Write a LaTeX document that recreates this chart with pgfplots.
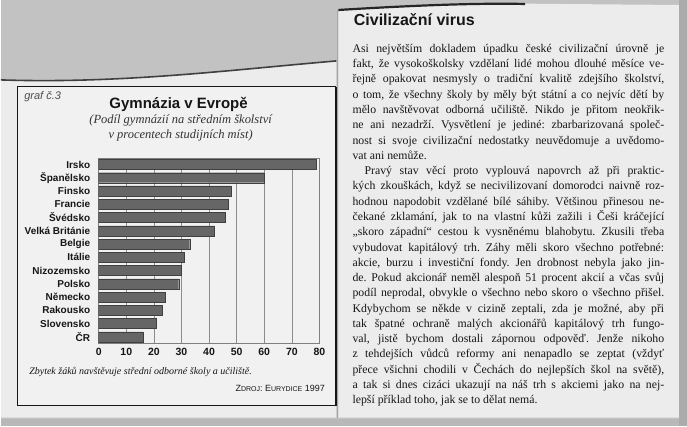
\documentclass[border=0pt]{standalone}
\usepackage{fontspec}
\setmainfont{Liberation Serif}
\setsansfont{Liberation Sans}
\usepackage{pgfplots}
\pgfplotsset{compat=1.18}

\definecolor{scan}{HTML}{C2C2C2}
\definecolor{paper}{HTML}{ECECEC}
\definecolor{boxbg}{HTML}{F1F1F1}
\definecolor{strip}{HTML}{ABABAB}
\definecolor{barfill}{HTML}{666666}
\definecolor{bardraw}{HTML}{404040}
\definecolor{ink}{HTML}{161616}

\begin{document}
\frenchspacing
\begin{tikzpicture}[x=1pt,y=1pt]
% scan background and paper pieces (y counted from the top: 427-y)
\fill[scan] (0,0) rectangle (687,427);
\fill[paper] (0,{427-80}) .. controls (120,{427-84}) and (230,{427-70}) .. (336,{427-61})
  -- (336,{427-418}) -- (0,{427-418}) -- cycle;
\draw[black!75,line width=1.6pt] (0,{427-80}) .. controls (120,{427-84}) and (230,{427-70}) .. (336,{427-61});
\fill[paper] (338,{427-10}) .. controls (420,{427-5}) and (500,{427-3}) .. (560,{427-4})
  -- (679,{427-5}) -- (679,{427-418}) -- (338,{427-418}) -- cycle;
\draw[black!85,line width=2.2pt] (338,{427-10}) .. controls (420,{427-5}) and (480,{427-3}) .. (525,{427-4});
\draw[black!35,line width=0.6pt] (337,{427-10}) -- (337,{427-418});
\fill[strip] (679,0) rectangle (687,427);
\fill[scan!95!black] (0,0) rectangle (679,{427-419});

% chart box
\filldraw[fill=boxbg,draw=ink,line width=0.9pt] (17,{427-87}) rectangle (335,{427-406});
\draw[ink,line width=1.6pt] (17,{427-406}) -- (335.3,{427-406}) -- (335.3,{427-87});

\node[anchor=west,font=\sffamily\itshape\fontsize{11}{13}\selectfont,text=black!70] at (20,{427-97}) {graf č.3};
\node[font=\sffamily\bfseries\fontsize{15}{17}\selectfont,text=ink] at (178,{427-105}) {Gymnázia v Evropě};
\node[align=center,font=\itshape\fontsize{12.5}{15}\selectfont,text=black!80] at (180,{427-128.5})
  {(Podíl gymnázií na středním školství\\v procentech studijních míst)};

\begin{axis}[
  at={(98pt,83pt)}, anchor=south west,
  scale only axis, width=221pt, height=186pt,
  xbar, bar width=10pt,
  xmin=0, xmax=80, ymin=-0.5, ymax=13.5,
  xtick={0,10,...,80},
  ytick={0,...,13},
  yticklabels={ČR,Slovensko,Rakousko,Německo,Polsko,Nizozemsko,Itálie,Belgie,Velká Británie,Švédsko,Francie,Finsko,Španělsko,Irsko},
  xmajorgrids, grid style={black!45,line width=0.6pt},
  major tick length=0pt,
  axis line style={black!50,line width=0.6pt},
  tick label style={font=\sffamily\bfseries\fontsize{10}{12}\selectfont,text=ink},
  xticklabel style={font=\sffamily\bfseries\fontsize{10.5}{12}\selectfont,yshift=-1pt},
  /pgf/number format/assume math mode=true,
  yticklabel style={xshift=-5pt},
  axis background/.style={fill=boxbg},
]
\addplot[fill=barfill,draw=bardraw,line width=0.4pt] coordinates {
  (16,0) (21,1) (23,2) (24,3) (29,4) (30,5) (31,6)
  (33,7) (42,8) (46,9) (47,10) (48,11) (60,12) (79,13)
};
\end{axis}

\node[anchor=west,font=\itshape\fontsize{10}{12}\selectfont,text=ink] at (25,{427-372})
  {Zbytek žáků navštěvuje střední odborné školy a učiliště.};
\node[anchor=east,font=\sffamily\fontsize{9}{10}\selectfont,text=ink] at (328,{427-389})
  {Z{\fontsize{7}{8}\selectfont DROJ}: E{\fontsize{7}{8}\selectfont URYDICE} 1997};

% article
\node[anchor=west,font=\sffamily\bfseries\fontsize{16}{18}\selectfont,text=ink] at (350,{427-20})
  {Civilizační virus};
\node[anchor=north west,inner sep=0pt,text width=312pt,align=justify,text=ink,
  font=\fontsize{11.8}{15.3}\selectfont] at (352,{427-44}) {%
Asi největším dokladem úpadku české civilizační úrovně je\linebreak
fakt, že vysokoškolsky vzdělaní lidé mohou dlouhé měsíce ve-\linebreak
řejně opakovat nesmysly o tradiční kvalitě zdejšího školství,\linebreak
o tom, že všechny školy by měly být státní a co nejvíc dětí by\linebreak
mělo navštěvovat odborná učiliště. Nikdo je přitom neokřik-\linebreak
ne ani nezadrží. Vysvětlení je jediné: zbarbarizovaná společ-\linebreak
nost si svoje civilizační nedostatky neuvědomuje a uvědomo-\linebreak
vat ani nemůže.\par
\hspace*{12pt}Pravý stav věcí proto vyplouvá napovrch až při praktic-\linebreak
kých zkouškách, když se necivilizovaní domorodci naivně roz-\linebreak
hodnou napodobit vzdělané bílé sáhiby. Většinou přinesou ne-\linebreak
čekané zklamání, jak to na vlastní kůži zažili i Češi kráčející\linebreak
„skoro západní“ cestou k vysněnému blahobytu. Zkusili třeba\linebreak
vybudovat kapitálový trh. Záhy měli skoro všechno potřebné:\linebreak
akcie, burzu i investiční fondy. Jen drobnost nebyla jako jin-\linebreak
de. Pokud akcionář neměl alespoň 51 procent akcií a včas svůj\linebreak
podíl neprodal, obvykle o všechno nebo skoro o všechno přišel.\linebreak
Kdybychom se někde v cizině zeptali, zda je možné, aby při\linebreak
tak špatné ochraně malých akcionářů kapitálový trh fungo-\linebreak
val, jistě bychom dostali zápornou odpověď. Jenže nikoho\linebreak
z tehdejších vůdců reformy ani nenapadlo se zeptat (vždyť\linebreak
přece všichni chodili v Čechách do nejlepších škol na světě),\linebreak
a tak si dnes cizáci ukazují na náš trh s akciemi jako na nej-\linebreak
lepší příklad toho, jak se to dělat nemá.};
\end{tikzpicture}
\end{document}
